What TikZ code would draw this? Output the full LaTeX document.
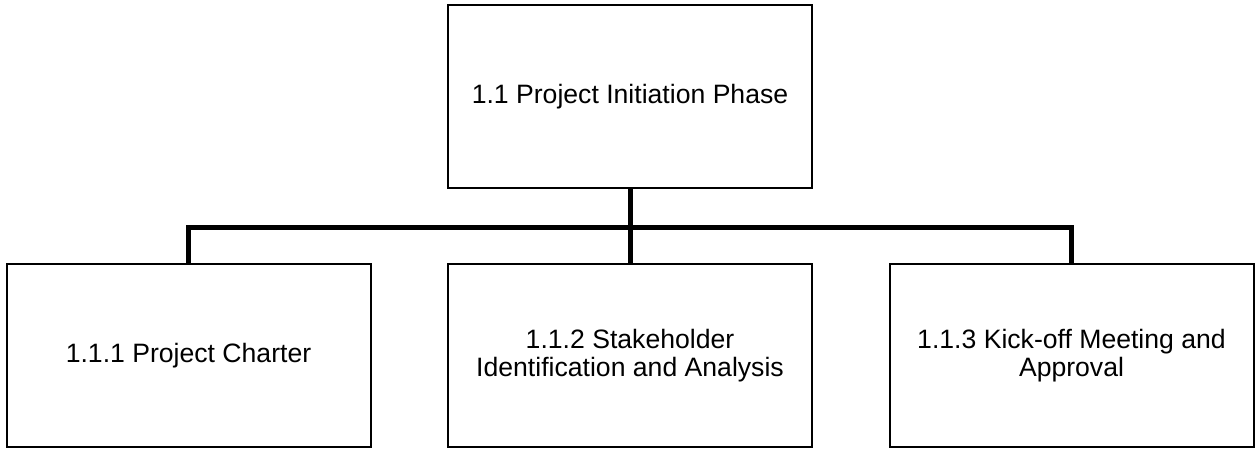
\documentclass[tikz,border=0pt]{standalone}
\usepackage{fontspec}
\setmainfont{Liberation Sans}
\begin{document}
\begin{tikzpicture}[
    x=0.5pt, y=0.5pt,
    level distance=129.75pt,
    sibling distance=220.75pt,
    every node/.style={draw, line width=1pt, minimum width=182pt, minimum height=91.5pt,
        inner sep=0pt, align=center, font=\fontsize{13.3}{14}\selectfont},
    edge from parent/.style={draw, line width=2.5pt},
    edge from parent path={(\tikzparentnode.south) -- ++(0,-19.5pt) -| (\tikzchildnode.north)}
]
    \useasboundingbox (0,0) rectangle (1259,455);
    \node (phase) at (630,358.5) {1.1 Project Initiation Phase}
        child { node (charter) {1.1.1 Project Charter} }
        child { node (stakeholders) {1.1.2 Stakeholder\\Identification and Analysis} }
        child { node (kickoff) {1.1.3 Kick-off Meeting and\\Approval} };
\end{tikzpicture}
\end{document}
